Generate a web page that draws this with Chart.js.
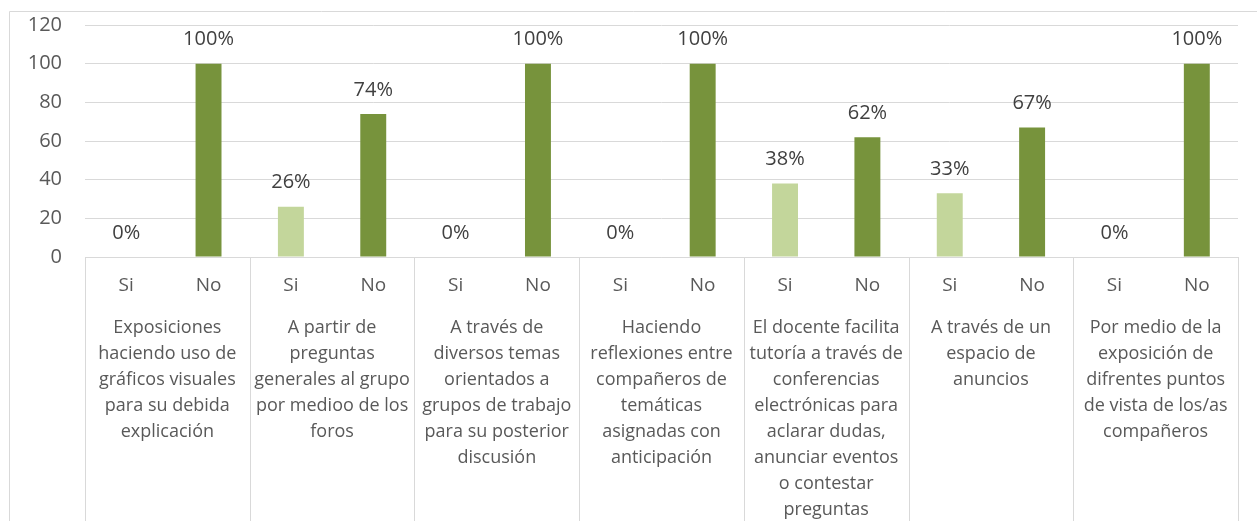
<!DOCTYPE html>
<html>
<head>
<meta charset="utf-8">
<script src="https://cdn.jsdelivr.net/npm/chart.js@4"></script>
<style>
  html, body { margin: 0; padding: 0; background: #fff; }
  #wrap { width: 1257px; height: 521px; position: relative; }
</style>
</head>
<body>
<div id="wrap"><canvas id="chart"></canvas></div>
<script>
// chart data
const groups = [
  ["Exposiciones", "haciendo uso de", "gráficos visuales", "para su debida", "explicación"],
  ["A partir de", "preguntas", "generales al grupo", "por medioo de los", "foros"],
  ["A través de", "diversos temas", "orientados a", "grupos de trabajo", "para su posterior", "discusión"],
  ["Haciendo", "reflexiones entre", "compañeros de", "temáticas", "asignadas con", "anticipación"],
  ["El docente facilita", "tutoría a través de", "conferencias", "electrónicas para", "aclarar dudas,", "anunciar eventos", "o contestar", "preguntas"],
  ["A través de un", "espacio de", "anuncios"],
  ["Por medio de la", "exposición de", "difrentes puntos", "de vista de los/as", "compañeros"]
];
const answers = ["Si", "No"];
const siValues = [0, 26, 0, 0, 38, 33, 0];
const noValues = [100, 74, 100, 100, 62, 67, 100];
const yTicks = [0, 20, 40, 60, 80, 100, 120];

const siColor = "#c3d69b";
const noColor = "#77933c";
const lineColor = "#d9d9d9";
const textColor = "#595959";
const font = "'Open Sans', sans-serif";

// flatten into one category per bar
const labels = [];
const values = [];
const colors = [];
groups.forEach(function (g, i) {
  labels.push(answers[0], answers[1]);
  values.push(siValues[i], noValues[i]);
  colors.push(siColor, noColor);
});

// frame, group dividers and group names
const axisDecor = {
  id: "axisDecor",
  afterDraw(chart) {
    const c = chart.ctx;
    const x = chart.scales.x;
    const area = chart.chartArea;
    const h = chart.height;
    c.save();
    c.strokeStyle = lineColor;
    c.lineWidth = 1;
    // outer frame
    c.beginPath();
    c.moveTo(9.5, h);
    c.lineTo(9.5, 11.5);
    c.lineTo(chart.width, 11.5);
    c.stroke();
    // axis line + dividers
    c.beginPath();
    c.moveTo(area.left, Math.round(area.bottom) + 0.5);
    c.lineTo(area.right, Math.round(area.bottom) + 0.5);
    for (let i = 0; i <= groups.length; i++) {
      let px;
      if (i === 0) px = area.left;
      else if (i === groups.length) px = area.right;
      else px = (x.getPixelForValue(i * 2 - 1) + x.getPixelForValue(i * 2)) / 2;
      px = Math.round(px) + 0.5;
      c.moveTo(px, area.bottom);
      c.lineTo(px, h);
    }
    c.stroke();
    // group names
    c.fillStyle = textColor;
    c.font = "18px " + font;
    c.textAlign = "center";
    c.textBaseline = "middle";
    groups.forEach(function (g, i) {
      const cx = (x.getPixelForValue(i * 2) + x.getPixelForValue(i * 2 + 1)) / 2;
      g.forEach(function (line, j) {
        c.fillText(line, cx, 328 + j * 26);
      });
    });
    c.restore();
  }
};

// percentage labels above bars
const barLabels = {
  id: "barLabels",
  afterDatasetsDraw(chart) {
    const c = chart.ctx;
    const meta = chart.getDatasetMeta(0);
    c.save();
    c.fillStyle = "#404040";
    c.font = "20px " + font;
    c.textAlign = "center";
    c.textBaseline = "middle";
    meta.data.forEach(function (bar, i) {
      c.fillText(values[i] + "%", bar.x, bar.y - 24);
    });
    c.restore();
  }
};

new Chart(document.getElementById("chart"), {
  type: "bar",
  data: {
    labels: labels,
    datasets: [
      {
        data: values,
        backgroundColor: colors,
        categoryPercentage: 1,
        barPercentage: 0.315,
      },
    ],
  },
  options: {
    responsive: true,
    maintainAspectRatio: false,
    animation: false,
    layout: { padding: { top: 25, right: 19, left: 0, bottom: 0 } },
    plugins: { legend: { display: false }, tooltip: { enabled: false } },
    scales: {
      x: {
        grid: { display: false, drawTicks: false },
        border: { display: false },
        ticks: {
          color: textColor,
          font: { family: font, size: 19 },
          padding: 17,
          maxRotation: 0,
          autoSkip: false,
        },
        afterFit(scale) { scale.height = 264; },
      },
      y: {
        min: 0,
        max: 120,
        afterBuildTicks(scale) {
          scale.ticks = yTicks.map(function (v) { return { value: v }; });
        },
        grid: { color: lineColor, drawTicks: false },
        border: { display: false },
        ticks: {
          color: textColor,
          font: { family: font, size: 20 },
          padding: 23,
        },
        afterFit(scale) {
          scale.width = 85;
          scale.paddingTop = 0;
          scale.paddingBottom = 0;
        },
      },
    },
  },
  plugins: [axisDecor, barLabels],
});
</script>
</body>
</html>
